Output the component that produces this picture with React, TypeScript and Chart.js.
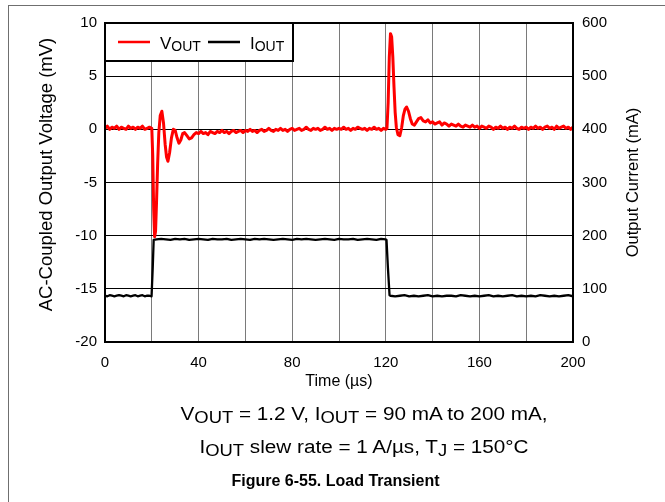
import React, { useEffect, useRef } from 'react';
import { Chart, registerables } from 'chart.js';

Chart.register(...registerables);

const FONT = "'Liberation Sans', Arial, Helvetica, sans-serif";

// x-axis (time, µs) labelled ticks; grid every 20 µs
const xTickLabels = [0, 40, 80, 120, 160, 200];
const xGridStep = 20;
const vTicks = { min: -20, max: 10, step: 5 };
const iTicks = { min: 0, max: 600, step: 100 };

// V_OUT (AC-coupled, mV) vs time (µs)
const vOutPoints: [number, number][] = [
  [0, 0.1], [1, 0.3], [2, 0.0], [3, 0.2], [4, 0.1], [5, 0.3], [6, 0.0], [7, 0.2], [8, 0.1], [9, 0.0],
  [10, 0.3], [11, 0.1], [12, 0.2], [13, 0.0], [14, 0.2], [15, 0.1], [16, 0.3], [17, 0.0], [18, 0.1], [19, 0.2],
  [20, 0.1], [20.4, -2.5], [20.8, -7.5], [21.2, -10.1], [21.6, -9.6], [22.0, -7.0], [22.5, -3.2], [23.0, -0.3],
  [23.6, 1.3], [24.3, 1.7], [25.0, 0.6], [25.7, -1.4], [26.3, -2.6], [26.9, -3.0], [27.6, -2.2], [28.4, -0.8],
  [29.2, 0.0], [30.0, -0.1], [30.8, -0.8], [31.6, -1.3], [32.4, -1.0], [33.2, -0.4], [34.0, -0.3], [35.0, -0.6],
  [36.0, -0.9], [37.0, -0.8], [38.0, -0.5], [39.0, -0.3],
  [40, -0.4], [41, -0.2], [42, -0.4], [43, -0.3], [44, -0.5], [45, -0.2], [46, -0.3], [47, -0.4], [48, -0.2], [49, -0.3],
  [50, -0.1], [51, -0.3], [52, -0.2], [53, -0.4], [54, -0.2], [55, -0.1], [56, -0.3], [57, -0.2], [58, -0.1], [59, -0.3],
  [60, -0.1], [61, -0.2], [62, 0.0], [63, -0.2], [64, -0.1], [65, -0.3], [66, -0.1], [67, 0.0], [68, -0.2], [69, -0.1],
  [70, 0.1], [71, -0.1], [72, -0.2], [73, 0.0], [74, -0.1], [75, 0.1], [76, -0.1], [77, 0.0], [78, -0.2], [79, 0.0],
  [80, 0.1], [81, -0.1], [82, 0.0], [83, 0.1], [84, -0.1], [85, 0.0], [86, 0.2], [87, 0.0], [88, -0.1], [89, 0.1],
  [90, 0.0], [91, 0.1], [92, -0.1], [93, 0.0], [94, 0.2], [95, 0.0], [96, 0.1], [97, -0.1], [98, 0.1], [99, 0.0],
  [100, 0.1], [101, 0.0], [102, 0.2], [103, 0.0], [104, 0.1], [105, -0.1], [106, 0.1], [107, 0.0], [108, 0.2], [109, 0.1],
  [110, 0.0], [111, 0.1], [112, -0.1], [113, 0.1], [114, 0.0], [115, 0.2], [116, 0.0], [117, 0.1], [118, -0.1], [119, 0.1],
  [120, 0.0], [120.5, 0.1], [121.0, 2.5], [121.5, 6.8], [122.0, 9.0], [122.5, 8.7], [123.0, 6.8], [123.5, 4.0],
  [124.0, 1.6], [124.5, 0.2], [125.2, -0.5], [126.0, -0.6], [126.8, 0.2], [127.5, 1.3], [128.2, 1.9], [128.9, 2.1],
  [129.7, 1.7], [130.5, 1.0], [131.3, 0.5], [132.2, 0.4], [133.1, 0.7], [134.0, 1.0], [135.0, 1.1], [136.0, 0.8],
  [137.0, 0.7], [138.0, 0.9], [139.0, 0.6],
  [140, 0.7], [141, 0.5], [142, 0.6], [143, 0.7], [144, 0.4], [145, 0.6], [146, 0.5], [147, 0.3], [148, 0.5], [149, 0.4],
  [150, 0.3], [151, 0.5], [152, 0.3], [153, 0.2], [154, 0.4], [155, 0.3], [156, 0.2], [157, 0.4], [158, 0.2], [159, 0.3],
  [160, 0.1], [161, 0.3], [162, 0.2], [163, 0.1], [164, 0.3], [165, 0.2], [166, 0.0], [167, 0.2], [168, 0.1], [169, 0.3],
  [170, 0.1], [171, 0.2], [172, 0.0], [173, 0.2], [174, 0.1], [175, 0.3], [176, 0.1], [177, 0.0], [178, 0.2], [179, 0.1],
  [180, 0.2], [181, 0.0], [182, 0.2], [183, 0.1], [184, 0.3], [185, 0.1], [186, 0.2], [187, 0.0], [188, 0.2], [189, 0.3],
  [190, 0.1], [191, 0.2], [192, 0.0], [193, 0.3], [194, 0.1], [195, 0.2], [196, 0.3], [197, 0.1], [198, 0.2], [199, 0.0],
  [200, 0.2],
];

// I_OUT (mA) vs time (µs)
const iOutPoints: [number, number][] = [
  [0, 87], [1, 86], [2, 88], [3, 87], [4, 86], [5, 87], [6, 88], [7, 87], [8, 86], [9, 88],
  [10, 87], [11, 86], [12, 87], [13, 88], [14, 86], [15, 87], [16, 88], [17, 86], [18, 87], [19, 87],
  [19.9, 86], [20.4, 140], [20.8, 192],
  [22, 193], [24, 194], [26, 193], [28, 192], [30, 194], [32, 193], [34, 194], [36, 192], [38, 193], [40, 194],
  [42, 193], [44, 192], [46, 194], [48, 193], [50, 193], [52, 194], [54, 192], [56, 193], [58, 194], [60, 193],
  [62, 192], [64, 194], [66, 193], [68, 194], [70, 193], [72, 192], [74, 193], [76, 194], [78, 193], [80, 192],
  [82, 194], [84, 193], [86, 194], [88, 193], [90, 192], [92, 193], [94, 194], [96, 193], [98, 192], [100, 194],
  [102, 193], [104, 193], [106, 194], [108, 192], [110, 193], [112, 194], [114, 193], [116, 192], [118, 194], [120, 193],
  [120.3, 192], [120.9, 140], [121.6, 88],
  [122, 87], [124, 86], [126, 87], [128, 88], [130, 86], [132, 87], [134, 86], [136, 87], [138, 88], [140, 86],
  [142, 87], [144, 86], [146, 87], [148, 87], [150, 86], [152, 88], [154, 87], [156, 86], [158, 87], [160, 86],
  [162, 87], [164, 88], [166, 86], [168, 87], [170, 86], [172, 87], [174, 88], [176, 86], [178, 87], [180, 86],
  [182, 87], [184, 86], [186, 88], [188, 87], [190, 86], [192, 87], [194, 86], [196, 87], [198, 88], [200, 86],
];

const legendItems = [
  { main: 'V', sub: 'OUT', color: '#ff0000' },
  { main: 'I', sub: 'OUT', color: '#000000' },
];

const leftTitle = 'AC-Coupled Output Voltage (mV)';
const rightTitle = 'Output Current (mA)';

function drawVerticalText(ctx: any, text: string, x: number, y: number, size: number) {
  ctx.save();
  ctx.translate(x, y);
  ctx.rotate(-Math.PI / 2);
  ctx.fillStyle = '#000';
  ctx.font = `${size}px ${FONT}`;
  ctx.textAlign = 'center';
  ctx.textBaseline = 'middle';
  ctx.fillText(text, 0, 0);
  ctx.restore();
}

const framePlugin = {
  id: 'frameAndLegend',
  afterDatasetsDraw(chart: any) {
    const { ctx, chartArea: a } = chart;
    ctx.save();
    // legend box
    const lx = a.left, ly = a.top, lw = 188, lh = 38;
    ctx.fillStyle = '#ffffff';
    ctx.fillRect(lx, ly, lw, lh);
    ctx.strokeStyle = '#000';
    ctx.lineWidth = 2;
    ctx.strokeRect(lx, ly, lw, lh);
    const starts = [lx + 13, lx + 103];
    legendItems.forEach((it, i) => {
      const sx = starts[i];
      const cy = ly + 19;
      ctx.strokeStyle = it.color;
      ctx.lineWidth = 2.5;
      ctx.beginPath();
      ctx.moveTo(sx, cy);
      ctx.lineTo(sx + 32, cy);
      ctx.stroke();
      ctx.fillStyle = '#000';
      ctx.textBaseline = 'alphabetic';
      ctx.textAlign = 'left';
      ctx.font = `17px ${FONT}`;
      const tx = sx + 42;
      ctx.fillText(it.main, tx, ly + 26);
      const w = ctx.measureText(it.main).width;
      ctx.font = `14px ${FONT}`;
      ctx.fillText(it.sub, tx + w, ly + 28);
    });
    // plot frame
    ctx.strokeStyle = '#000';
    ctx.lineWidth = 2;
    ctx.strokeRect(a.left, a.top, a.right - a.left, a.bottom - a.top);
    ctx.restore();
    // axis titles (both read bottom-to-top)
    drawVerticalText(ctx, leftTitle, a.left - 58.5, (a.top + a.bottom) / 2 - 8, 18.5);
    drawVerticalText(ctx, rightTitle, a.right + 60, (a.top + a.bottom) / 2, 16.5);
  },
};

function LoadTransientChart() {
  const ref = useRef<HTMLCanvasElement | null>(null);
  useEffect(() => {
    if (!ref.current) return;
    const chart = new Chart(ref.current, {
      type: 'line',
      data: {
        datasets: [
          {
            label: 'VOUT',
            data: vOutPoints.map(([x, y]) => ({ x, y })),
            borderColor: '#ff0000',
            borderWidth: 3,
            pointRadius: 0,
            tension: 0,
            yAxisID: 'y',
            borderJoinStyle: 'round',
          },
          {
            label: 'IOUT',
            data: iOutPoints.map(([x, y]) => ({ x, y })),
            borderColor: '#000000',
            borderWidth: 2.3,
            pointRadius: 0,
            tension: 0,
            yAxisID: 'y1',
            borderJoinStyle: 'round',
          },
        ],
      },
      options: {
        responsive: false,
        animation: false,
        events: [],
        layout: { padding: { left: 0, right: 0, top: 23, bottom: 107 } },
        plugins: { legend: { display: false }, tooltip: { enabled: false }, title: { display: false } },
        scales: {
          x: {
            type: 'linear',
            min: 0,
            max: 200,
            afterFit: (s: any) => { s.height = 53; },
            ticks: {
              stepSize: xGridStep,
              autoSkip: false,
              maxRotation: 0,
              padding: 12,
              color: '#000',
              font: { family: FONT, size: 15 },
              callback: (v: any) => (xTickLabels.includes(Number(v)) ? String(v) : ''),
            },
            grid: { color: '#7a7a7a', lineWidth: 1, drawTicks: false },
            border: { display: false },
            title: {
              display: true,
              text: 'Time (µs)',
              color: '#000',
              font: { family: FONT, size: 16 },
              padding: { top: 0, bottom: 4 },
            },
          },
          y: {
            type: 'linear',
            position: 'left',
            min: vTicks.min,
            max: vTicks.max,
            afterFit: (s: any) => { s.width = 105; },
            ticks: {
              stepSize: vTicks.step,
              padding: 8,
              color: '#000',
              font: { family: FONT, size: 15 },
            },
            grid: { color: '#000', lineWidth: 1, drawTicks: false },
            border: { display: false },
            title: { display: false },
          },
          y1: {
            type: 'linear',
            position: 'right',
            min: iTicks.min,
            max: iTicks.max,
            afterFit: (s: any) => { s.width = 92; },
            ticks: {
              stepSize: iTicks.step,
              padding: 9,
              color: '#000',
              font: { family: FONT, size: 15 },
            },
            grid: { display: false, drawTicks: false },
            border: { display: false },
            title: { display: false },
          },
        },
      },
      plugins: [framePlugin],
    } as any);
    return () => chart.destroy();
  }, []);
  return <canvas ref={ref} width={665} height={502} style={{ position: 'absolute', left: 0, top: 0 }} />;
}

const subStyle: React.CSSProperties = { fontSize: '16px', verticalAlign: '-3px', lineHeight: 0 };
const captionStyle: React.CSSProperties = {
  position: 'absolute',
  left: 0,
  width: 728,
  textAlign: 'center',
  fontSize: 18,
  lineHeight: '22px',
  whiteSpace: 'nowrap',
  transform: 'scaleX(1.15)',
  transformOrigin: '364px 50%',
};

export default function App() {
  return (
    <div
      style={{
        position: 'absolute',
        left: 0,
        top: 0,
        width: 665,
        height: 502,
        overflow: 'hidden',
        background: '#fff',
        fontFamily: FONT,
        color: '#000',
      }}
    >
      <div
        style={{
          position: 'absolute',
          left: 8,
          top: 5,
          width: 800,
          height: 700,
          borderLeft: '1px solid #6f6f6f',
          borderTop: '1px solid #6f6f6f',
        }}
      />
      <LoadTransientChart />
      <div style={{ ...captionStyle, top: 403 }}>
        V<span style={subStyle}>OUT</span> = 1.2 V, I<span style={subStyle}>OUT</span> = 90 mA to 200 mA,
      </div>
      <div style={{ ...captionStyle, top: 436 }}>
        I<span style={subStyle}>OUT</span> slew rate = 1 A/µs, T<span style={subStyle}>J</span> = 150°C
      </div>
      <div style={{ position: 'absolute', left: 0, width: 671, top: 471, textAlign: 'center', fontSize: 16, fontWeight: 'bold', lineHeight: '20px', whiteSpace: 'nowrap' }}>
        Figure 6-55. Load Transient
      </div>
    </div>
  );
}
